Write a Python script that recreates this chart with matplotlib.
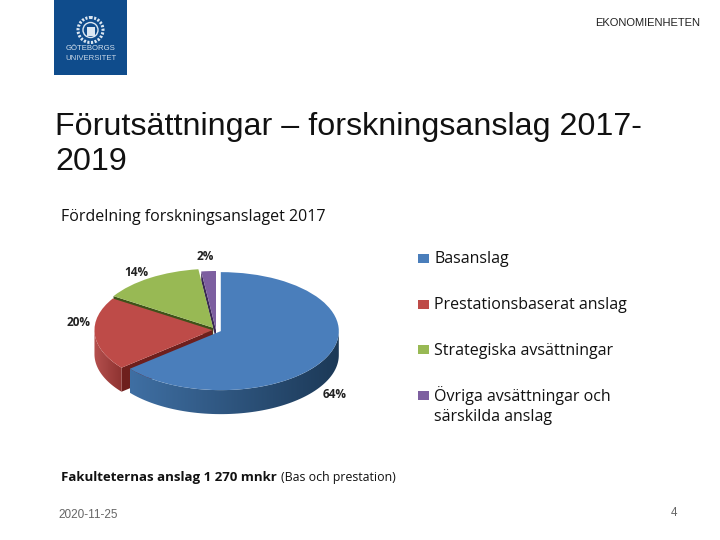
import numpy as np
import matplotlib
matplotlib.use("Agg")
import matplotlib.pyplot as plt
from matplotlib.colors import LinearSegmentedColormap
from matplotlib.patches import Circle, Polygon, Rectangle

categories = ["Basanslag", "Prestationsbaserat anslag", "Strategiska avsättningar",
              "Övriga avsättningar och\nsärskilda anslag"]
values = [64, 20, 14, 2]
colors = ["#4A7EBB", "#BE4B48", "#98B954", "#7D5FA0"]
dark = ["#1F3D5E", "#7E2A28", "#3F5219", "#3B2A55"]
explode = [0.045, 0.03, 0.045, 0.0]

W, H = 720, 540
CX, CY, RX, RY, DEPTH = 216, 330, 118, 59, 24

fig = plt.figure(figsize=(W / 100, H / 100), dpi=100, facecolor="white")

# bakgrund i pixelkoordinater: logga och texter
bg = fig.add_axes([0, 0, 1, 1])
bg.set_xlim(0, W)
bg.set_ylim(H, 0)
bg.axis("off")

# logga
bg.add_patch(Rectangle((54, 0), 73, 75, color="#0F4C8C", lw=0))
bg.add_patch(Circle((90.5, 30), 12.5, fill=False, ec="#DCE7F2", lw=2.2, ls=(0, (0.7, 0.5))))
bg.add_patch(Circle((90.5, 30), 7.5, fill=False, ec="#DCE7F2", lw=1.0))
bg.add_patch(Rectangle((86.5, 27), 8, 9, color="#DCE7F2", lw=0))
bg.text(90.5, 49, "GÖTEBORGS", color="#D5E2EF", fontsize=5.6, ha="center", va="center",
        family="Liberation Sans")
bg.text(90.5, 58, "UNIVERSITET", color="#C6D6E6", fontsize=5.6, ha="center", va="center",
        family="Liberation Sans")

bg.text(700, 23, "EKONOMIENHETEN", fontsize=8, ha="right", va="center",
        family="Liberation Sans", color="#222222")
bg.text(55, 127.5, "Förutsättningar – forskningsanslag 2017-", fontsize=23.2, ha="left", va="center",
        family="Liberation Sans", color="#111111")
bg.text(55, 161.5, "2019", fontsize=23.2, ha="left", va="center",
        family="Liberation Sans", color="#111111")
bg.text(61, 217, "Fördelning forskningsanslaget 2017", fontsize=11.5, ha="left", va="center",
        family="Open Sans", color="#111111")
bg.text(61, 477, "Fakulteternas anslag 1 270 mnkr", fontsize=9.5, ha="left", va="center",
        family="Open Sans", color="#111111", weight="bold")
bg.text(281, 478, "(Bas och prestation)", fontsize=8.9, ha="left", va="center",
        family="Open Sans", color="#111111")
bg.text(58, 515, "2020-11-25", fontsize=8.5, ha="left", va="center",
        family="Liberation Sans", color="#666666")
bg.text(677, 513, "4", fontsize=8.4, ha="right", va="center",
        family="Liberation Sans", color="#666666")

# förklaring
legend_y = [258, 304, 349, 395]
text_top = [251, 297, 343, 386]
for name, col, y, t in zip(categories, colors, legend_y, text_top):
    bg.add_patch(Rectangle((418, y - 4), 10.5, 9, color=col, lw=0))
    bg.text(434, t, name, fontsize=11.5, ha="left", va="top", family="Open Sans",
            color="#111111", linespacing=1.3)

# cirkeldiagram: ellips genom att axeln är ihoptryckt
ax = fig.add_axes([(CX - 1.5 * RX) / W, 1 - (CY + 1.5 * RY) / H, 3 * RX / W, 3 * RY / H])
ax.patch.set_alpha(0)
wedges, _ = ax.pie(values, colors=colors, explode=explode, startangle=90, counterclock=False,
                   wedgeprops={"linewidth": 0}, radius=1)
ax.set_aspect("auto")
ax.set_xlim(-1.5, 1.5)
ax.set_ylim(-1.5, 1.5)

depth = DEPTH / RY


def rim(w, a):
    a = np.radians(a)
    return np.column_stack([w.center[0] + np.cos(a), w.center[1] + np.sin(a)])


def side(w, a1, a2, c1, c2, zorder):
    # sidan av en tårtbit som gradient, klippt till bandet under kanten
    top = rim(w, np.linspace(a1, a2, 80))
    low = top[::-1] - [0, depth]
    clip = Polygon(np.vstack([top, low]), transform=ax.transData, fc="none", ec="none")
    ax.add_patch(clip)
    cmap = LinearSegmentedColormap.from_list("s", [c1, c2])
    xs = np.linspace(0, 1, 200)[None, :]
    im = ax.imshow(xs, cmap=cmap, extent=(top[:, 0].min(), top[:, 0].max(), -1.5, 1.5),
                   aspect="auto", zorder=zorder)
    im.set_clip_path(clip)
    ax.set_xlim(-1.5, 1.5)
    ax.set_ylim(-1.5, 1.5)


blue, red, green, purple = wedges
blue.set_zorder(40)
red.set_zorder(30)
green.set_zorder(20)
purple.set_zorder(10)

# bakre bitarnas mörka snittytor
for w, col, z in [(green, dark[2], 15), (purple, dark[3], 5)]:
    tip = np.array(w.center)
    edge = rim(w, [w.theta2])[0]
    ax.add_patch(Polygon([tip, edge, edge - [0, depth * 0.4], tip - [0, depth * 0.4]],
                         fc=col, ec="none", zorder=z))

# röd snittyta mot den blå biten
tip = np.array(red.center)
edge = rim(red, [red.theta2])[0]
ax.add_patch(Polygon([tip, edge, edge - [0, depth], tip - [0, depth]],
                     fc="#6E1F1D", ec="none", zorder=25))
side(red, -180, red.theta2, "#B5504E", "#8E3331", 26)
side(blue, blue.theta1, 0, "#3F6FA3", "#1C3957", 36)

# procentetiketter
label_x = [335, 79, 136, 205]
label_y = [394, 323, 272, 256]
for v, x, y in zip(values, label_x, label_y):
    bg.text(x, y, f"{v}%", fontsize=8.5, weight="bold", ha="center", va="center",
            family="Open Sans", color="#222222")

fig.savefig("out.png", dpi=100)
